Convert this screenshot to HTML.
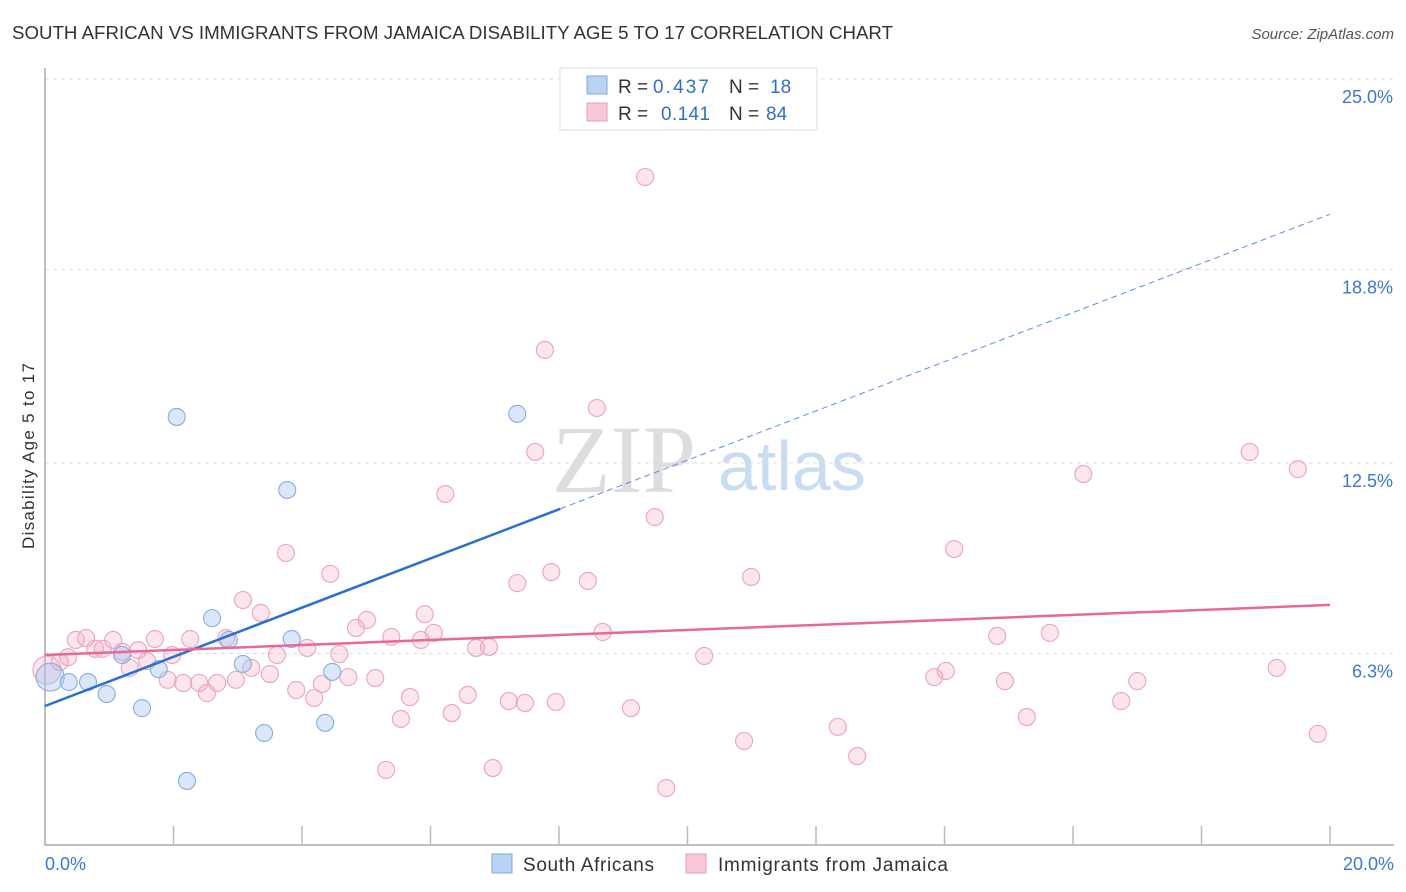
<!DOCTYPE html>
<html><head><meta charset="utf-8"><style>
body{margin:0;background:#fff;font-family:"Liberation Sans",sans-serif}
svg{display:block}
</style></head><body>
<svg width="1406" height="892" viewBox="0 0 1406 892">
<text x="12" y="39" font-size="18" fill="#333" textLength="881" lengthAdjust="spacingAndGlyphs">SOUTH AFRICAN VS IMMIGRANTS FROM JAMAICA DISABILITY AGE 5 TO 17 CORRELATION CHART</text>
<text x="1394" y="39" font-size="15" fill="#555" font-style="italic" text-anchor="end">Source: ZipAtlas.com</text>
<g>
<text x="552" y="492" font-size="96" font-family="Liberation Serif,serif" fill="#ddd">ZIP</text>
<text x="718" y="490" font-size="70" fill="#c9dcf2">atlas</text>
</g>
<g id="grid"></g>
<g id="axes"></g>
<g id="marks"></g>
<text transform="translate(34,456) rotate(-90)" font-size="17" fill="#333" text-anchor="middle" textLength="186">Disability Age 5 to 17</text>
<g>
<rect x="560" y="68" width="257" height="62" fill="#fff" stroke="#ddd"/>
<rect x="587" y="76" width="20" height="18" fill="#b9d3f5" stroke="#7ea7df"/>
<rect x="587" y="103" width="20" height="18" fill="#f9c7d6" stroke="#e99bb5"/>
<g font-size="19">
<text x="618" y="93" fill="#333">R =</text><text x="653" y="93" fill="#2f6fd0" textLength="56">0.437</text>
<text x="729" y="93" fill="#333">N =</text><text x="770" y="93" fill="#2f6fd0">18</text></g>
<g font-size="19">
<text x="618" y="120" fill="#333">R =</text><text x="661" y="120" fill="#2f6fd0" textLength="49">0.141</text>
<text x="729" y="120" fill="#333">N =</text><text x="766" y="120" fill="#2f6fd0">84</text></g>
</g>
<g>
<rect x="492" y="854" width="20" height="19" fill="#b9d3f5" stroke="#7ea7df"/>
<text x="523" y="871" font-size="19" fill="#333" textLength="131">South Africans</text>
<rect x="686" y="854" width="20" height="19" fill="#f9c7d6" stroke="#e99bb5"/>
<text x="718" y="871" font-size="19" fill="#333" textLength="230">Immigrants from Jamaica</text>
</g>
</svg>
<script>
const yTicks=[25.0,18.8,12.5,6.3];
const yTickLabels=["25.0%","18.8%","12.5%","6.3%"];
const xTickLabels=["0.0%","20.0%"];
const blueX=[0.08,0.37,0.67,0.96,1.20,1.51,1.77,2.05,2.21,2.60,2.86,3.08,3.41,3.77,3.84,4.36,4.47,7.35];
const blueY=[5.53,5.37,5.37,4.98,6.25,4.52,5.79,14.0,2.15,7.45,6.74,5.96,3.71,11.62,6.77,4.04,5.70,14.10];
const pinkX=[0.03,0.23,0.36,0.48,0.64,0.78,0.90,1.06,1.20,1.32,1.45,1.59,1.71,1.91,1.98,2.15,2.26,2.40,2.52,2.68,2.82,2.97,3.08,3.21,3.36,3.50,3.61,3.75,3.91,4.08,4.19,4.31,4.44,4.58,4.72,4.84,5.01,5.14,5.31,5.39,5.54,5.68,5.85,5.91,6.05,6.23,6.33,6.58,6.71,6.91,6.97,7.22,7.35,7.47,7.63,7.78,7.88,7.95,8.45,8.59,8.68,9.12,9.34,9.49,9.67,10.26,10.88,10.99,12.34,12.64,13.84,14.02,14.15,14.82,14.94,15.28,15.64,16.16,16.75,17.00,18.75,19.17,19.50,19.81];
const pinkY=[5.76,6.02,6.18,6.74,6.80,6.45,6.45,6.74,6.35,5.83,6.41,6.05,6.77,5.44,6.25,5.34,6.77,5.34,5.01,5.34,6.80,5.44,8.04,5.83,7.62,5.63,6.25,9.57,5.11,6.48,4.85,5.31,8.89,6.28,5.53,7.13,7.39,5.50,2.51,6.84,4.17,4.88,6.74,7.58,6.97,11.49,4.36,4.95,6.48,6.51,2.57,4.75,8.59,4.69,12.86,16.18,8.95,4.72,8.66,14.29,7.00,4.52,21.81,10.74,1.92,6.22,3.45,8.79,3.91,2.96,5.53,5.73,9.70,6.87,5.40,4.23,6.97,12.14,4.75,5.40,12.86,5.83,12.30,3.68];
const blueLine=[4.59,20.6]; const blueSolidEnd=8.02;
const pinkLine=[6.25,7.88];
const NS='http://www.w3.org/2000/svg';
const X=v=>45+v*64.25, Y=v=>847-v*30.72;
function mk(t,a,p){const e=document.createElementNS(NS,t);for(const k in a)e.setAttribute(k,a[k]);p.appendChild(e);return e;}
const grid=document.getElementById('grid'),axes=document.getElementById('axes'),marks=document.getElementById('marks');
yTicks.forEach((v,i)=>{
 const l=mk('line',{x1:45,x2:1394,y1:Y(v),y2:Y(v),stroke:'#ddd','stroke-dasharray':'4,4'},grid);
 
 
 const t=mk('text',{x:1393,y:Y(v)+24,'font-size':18,fill:'#3b78d8','text-anchor':'end'},axes);
 t.textContent=yTickLabels[i];
 
 
});
const ax=mk('path',{d:'M45 68 V845 H1394',fill:'none',stroke:'#aaa','stroke-width':1.5},axes);


for(let i=1;i<=10;i++){
 const t=mk('line',{x1:X(i*2),x2:X(i*2),y1:826,y2:845,stroke:'#bbb','stroke-width':1.5},axes);
 
 
}
[[0,'start',45],[20,'end',1394]].forEach((d,i)=>{
 const t=mk('text',{x:d[2],y:870,'font-size':18,fill:'#3b78d8','text-anchor':d[1]},axes);
 t.textContent=xTickLabels[i];
 
 
});
function pts(xs,ys,fill,stroke,name){
 xs.forEach((x,i)=>{
  const c=mk('circle',{cx:X(x),cy:Y(ys[i]),r:i==0?14:8.5,fill:fill,stroke:stroke,'stroke-width':1.1},marks);
  
  
 });
}
pts(pinkX,pinkY,'rgba(245,170,195,0.3)','#eaa3bb','point-jamaica');
pts(blueX,blueY,'rgba(160,195,240,0.4)','#86acdf','point-south-african');
const bAt=x=>blueLine[0]+(blueLine[1]-blueLine[0])*x/20;
let l=mk('line',{x1:X(0),y1:Y(blueLine[0]),x2:X(blueSolidEnd),y2:Y(bAt(blueSolidEnd)),stroke:'#2a6fd6','stroke-width':2.5},marks);


l=mk('line',{x1:X(blueSolidEnd),y1:Y(bAt(blueSolidEnd)),x2:X(20),y2:Y(blueLine[1]),stroke:'#5b8fde','stroke-width':1,'stroke-dasharray':'6,4'},marks);


l=mk('line',{x1:X(0),y1:Y(pinkLine[0]),x2:X(20),y2:Y(pinkLine[1]),stroke:'#e8679a','stroke-width':2.5},marks);


</script>
</body></html>
